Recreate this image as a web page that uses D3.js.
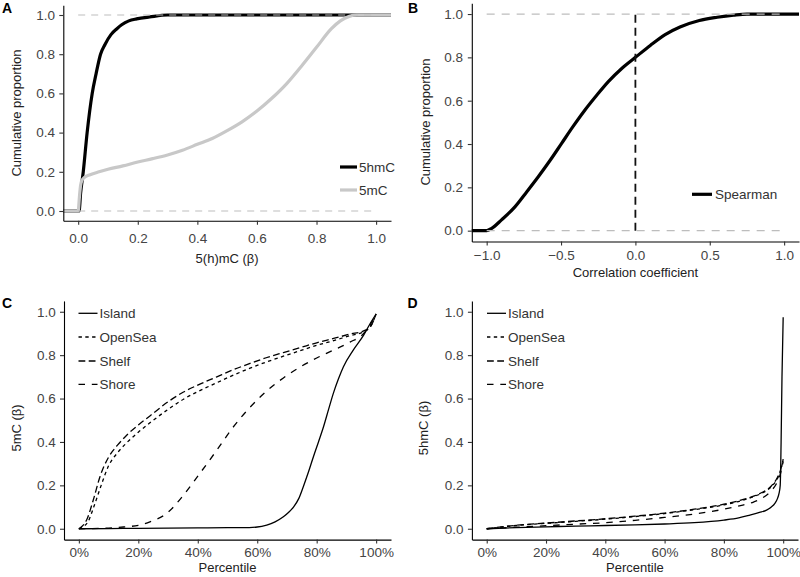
<!DOCTYPE html>
<html>
<head>
<meta charset="utf-8">
<script src="https://cdn.jsdelivr.net/npm/d3@7"></script>
<style>
  html, body { margin: 0; padding: 0; background: #fff; }
  svg { display: block; font-family: 'Liberation Sans', Arial, Helvetica, sans-serif; }
</style>
</head>
<body>
<svg id="chart" width="800" height="577"></svg>
<script>
// ---------------- DATA ----------------
// Panel A: cumulative proportion of 5hmC / 5mC beta values
const hmcX = [-0.05, 0.003, 0.008, 0.017, 0.030, 0.047, 0.060, 0.075, 0.090, 0.110, 0.130, 0.146, 0.170, 0.196, 0.240, 0.300, 1.05];
const hmcY = [0, 0, 0.09, 0.2, 0.4, 0.6, 0.7, 0.8, 0.85, 0.9, 0.93, 0.95, 0.97, 0.98, 0.99, 1.0, 1.0];
const mcX = [-0.05, 0.0, 0.004, 0.008, 0.012, 0.02, 0.04, 0.07, 0.1, 0.15, 0.2, 0.25, 0.3, 0.35, 0.4, 0.45, 0.5, 0.55, 0.6, 0.65, 0.7, 0.75, 0.8, 0.85, 0.88, 0.91, 0.935, 1.05];
const mcY = [0, 0, 0.07, 0.13, 0.155, 0.17, 0.185, 0.2, 0.213, 0.23, 0.25, 0.267, 0.286, 0.31, 0.34, 0.37, 0.41, 0.455, 0.51, 0.575, 0.65, 0.74, 0.835, 0.93, 0.97, 0.993, 1.0, 1.0];
const seriesA = ["5hmC", "5mC"];
const ticksA = [0, 0.2, 0.4, 0.6, 0.8, 1.0];

// Panel B: cumulative proportion of Spearman correlation coefficients
const spearX = [-1.1, -1.0, -0.966, -0.9, -0.81, -0.73, -0.653, -0.573, -0.496, -0.42, -0.339, -0.26, -0.182, -0.09, 0.0, 0.1, 0.2, 0.3, 0.43, 0.55, 0.66, 0.75, 1.1];
const spearY = [0, 0, 0.011, 0.05, 0.11, 0.18, 0.249, 0.325, 0.403, 0.48, 0.557, 0.625, 0.688, 0.75, 0.80, 0.855, 0.905, 0.94, 0.97, 0.985, 0.995, 1.0, 1.0];
const seriesB = ["Spearman"];
const xTicksB = [-1.0, -0.5, 0.0, 0.5, 1.0];

// Panel C: 5mC by percentile per region
const regions = ["Island", "OpenSea", "Shelf", "Shore"];
const cIslandP = [0, 0.1, 0.2, 0.3, 0.4, 0.5, 0.55, 0.6, 0.632, 0.66, 0.688, 0.705, 0.722, 0.74, 0.755, 0.772, 0.789, 0.806, 0.823, 0.84, 0.856, 0.873, 0.89, 0.923, 0.958, 0.98, 1.0];
const cIslandV = [0, 0.001, 0.002, 0.003, 0.004, 0.005, 0.005, 0.008, 0.017, 0.032, 0.055, 0.075, 0.10, 0.14, 0.194, 0.26, 0.332, 0.40, 0.47, 0.55, 0.624, 0.69, 0.747, 0.823, 0.892, 0.946, 0.99];
const cOpenSeaP = [0, 0.015, 0.03, 0.05, 0.075, 0.1, 0.13, 0.16, 0.2, 0.239, 0.3, 0.352, 0.4, 0.464, 0.52, 0.576, 0.63, 0.688, 0.75, 0.8, 0.86, 0.912, 0.958, 0.98, 1.0];
const cOpenSeaV = [0, 0.01, 0.03, 0.1, 0.2, 0.29, 0.35, 0.395, 0.445, 0.488, 0.55, 0.597, 0.632, 0.673, 0.708, 0.74, 0.768, 0.795, 0.823, 0.845, 0.868, 0.89, 0.908, 0.93, 0.99];
const cShelfP = [0, 0.01, 0.026, 0.048, 0.071, 0.1, 0.13, 0.16, 0.2, 0.239, 0.3, 0.352, 0.4, 0.464, 0.52, 0.576, 0.63, 0.688, 0.75, 0.8, 0.86, 0.912, 0.958, 0.98, 1.0];
const cShelfV = [0, 0.01, 0.04, 0.13, 0.24, 0.33, 0.385, 0.43, 0.478, 0.52, 0.585, 0.63, 0.662, 0.70, 0.733, 0.762, 0.788, 0.812, 0.837, 0.857, 0.878, 0.897, 0.912, 0.93, 0.99];
const cShoreP = [0, 0.1, 0.15, 0.2, 0.239, 0.295, 0.352, 0.407, 0.464, 0.52, 0.576, 0.632, 0.688, 0.744, 0.8, 0.856, 0.912, 0.958, 0.98, 1.0];
const cShoreV = [0, 0.003, 0.008, 0.016, 0.032, 0.07, 0.155, 0.255, 0.362, 0.47, 0.56, 0.635, 0.695, 0.745, 0.787, 0.823, 0.86, 0.90, 0.94, 0.99];

// Panel D: 5hmC by percentile per region
const dIslandP = [0, 0.1, 0.2, 0.3, 0.4, 0.5, 0.6, 0.7, 0.8, 0.85, 0.888, 0.92, 0.944, 0.96, 0.972, 0.981, 0.986, 0.99, 0.993, 0.996, 1.0];
const dIslandV = [0, 0.005, 0.009, 0.012, 0.015, 0.018, 0.022, 0.028, 0.04, 0.05, 0.063, 0.075, 0.086, 0.1, 0.117, 0.14, 0.163, 0.2, 0.4, 0.7, 0.975];
const dPctP = [0, 0.1, 0.2, 0.3, 0.4, 0.5, 0.6, 0.7, 0.8, 0.86, 0.9, 0.93, 0.96, 0.98, 0.99, 1.0];
const dOpenSeaV = [0, 0.015, 0.025, 0.034, 0.044, 0.056, 0.07, 0.088, 0.11, 0.13, 0.148, 0.165, 0.194, 0.23, 0.26, 0.32];
const dShelfV = [0, 0.016, 0.026, 0.036, 0.046, 0.058, 0.072, 0.09, 0.113, 0.133, 0.15, 0.168, 0.197, 0.235, 0.265, 0.32];
const dShoreV = [0, 0.007, 0.014, 0.021, 0.028, 0.039, 0.052, 0.068, 0.09, 0.108, 0.123, 0.142, 0.175, 0.215, 0.25, 0.31];
const pctTicks = [0, 0.2, 0.4, 0.6, 0.8, 1.0];

// ---------------- DRAWING ----------------
const svg = d3.select("#chart");
const FS_TICK = 13.5, FS_TITLE = 13, FS_LEG = 13.5;
const TICK_COL = "#444", LEG_COL = "#333";
const dashStyles = { Island: null, OpenSea: "3.4,3.4", Shelf: "6.8,3.4", Shore: "6.5,6.8" };

function zip(xs, ys) { return xs.map((x, i) => [x, ys[i]]); }

function axes(g, x, y, o) {
  const ax = g.append("g").attr("transform", `translate(0,${y.range()[0]})`)
    .call(d3.axisBottom(x).tickValues(o.xTicks).tickFormat(o.xFmt).tickSize(4).tickSizeOuter(0).tickPadding(o.xPad));
  const ay = g.append("g").attr("transform", `translate(${x.range()[0]},0)`)
    .call(d3.axisLeft(y).tickValues(o.yTicks).tickFormat(d3.format(".1f")).tickSize(4).tickSizeOuter(0).tickPadding(o.yPad));
  [ax, ay].forEach(a => {
    a.select(".domain").attr("stroke", "#000").attr("stroke-width", 1.1);
    a.selectAll(".tick line").attr("stroke", "#333").attr("stroke-width", 1.1);
    a.selectAll(".tick text").attr("fill", TICK_COL).attr("font-size", FS_TICK)
      .attr("font-family", "'Liberation Sans', Arial, sans-serif");
  });
  g.append("text").attr("x", (x.range()[0] + x.range()[1]) / 2).attr("y", o.xTitleY)
    .attr("text-anchor", "middle").attr("font-size", FS_TITLE).attr("fill", "#222").text(o.xTitle);
  g.append("text").attr("transform", `translate(${o.yTitleX},${o.yTitleCY}) rotate(-90)`)
    .attr("text-anchor", "middle").attr("dominant-baseline", "central")
    .attr("font-size", FS_TITLE).attr("fill", "#222").text(o.yTitle);
  g.append("text").attr("x", o.letterX).attr("y", o.letterY).attr("font-size", 14)
    .attr("font-weight", "bold").attr("fill", "#000").text(o.letter);
}

const curve = d3.curveMonotoneX;

// ---------- Panel A ----------
{
  const g = svg.append("g");
  const x = d3.scaleLinear().domain([-0.05, 1.05]).range([63.3, 391]);
  const y = d3.scaleLinear().domain([-0.05, 1.05]).range([220.8, 5.2]);
  const line = d3.line().x(d => x(d[0])).y(d => y(d[1])).curve(curve);
  const colA = { "5hmC": "#000", "5mC": "#c8c8c8" };
  const dataA = { "5hmC": zip(hmcX, hmcY), "5mC": zip(mcX, mcY) };
  seriesA.forEach(s => g.append("path").datum(dataA[s]).attr("d", line)
    .attr("fill", "none").attr("stroke", colA[s]).attr("stroke-width", 3.2));
  [0, 1].forEach(v => g.append("line").attr("x1", x(0)).attr("x2", x(1)).attr("y1", y(v)).attr("y2", y(v))
    .attr("stroke", "#bdbdbd").attr("stroke-width", 1.2).attr("stroke-dasharray", "7,6"));
  axes(g, x, y, { xTicks: ticksA, xFmt: d3.format(".1f"), yTicks: ticksA, xPad: 8.5, yPad: 4.3,
    xTitle: "5(h)mC (β)", xTitleY: 263, yTitle: "Cumulative proportion", yTitleX: 16.5, yTitleCY: 113,
    letter: "A", letterX: 2, letterY: 12.5 });
  seriesA.forEach((s, i) => {
    const ly = 167 + i * 23;
    g.append("line").attr("x1", 340).attr("x2", 357).attr("y1", ly).attr("y2", ly)
      .attr("stroke", colA[s]).attr("stroke-width", 3.2);
    g.append("text").attr("x", 359).attr("y", ly).attr("dominant-baseline", "central")
      .attr("font-size", FS_LEG).attr("fill", LEG_COL).text(s);
  });
}

// ---------- Panel B ----------
{
  const g = svg.append("g");
  const x = d3.scaleLinear().domain([-1.1, 1.1]).range([471.8, 799]);
  const y = d3.scaleLinear().domain([-0.05, 1.05]).range([241.5, 3.2]);
  const line = d3.line().x(d => x(d[0])).y(d => y(d[1])).curve(curve);
  g.append("path").datum(zip(spearX, spearY)).attr("d", line)
    .attr("fill", "none").attr("stroke", "#000").attr("stroke-width", 3.2);
  g.append("line").attr("x1", x(0)).attr("x2", x(0)).attr("y1", y(0)).attr("y2", y(1))
    .attr("stroke", "#111").attr("stroke-width", 1.8).attr("stroke-dasharray", "8,5");
  [0, 1].forEach(v => g.append("line").attr("x1", x(-1)).attr("x2", x(1)).attr("y1", y(v)).attr("y2", y(v))
    .attr("stroke", "#bdbdbd").attr("stroke-width", 1.2).attr("stroke-dasharray", "8,7"));
  axes(g, x, y, { xTicks: xTicksB, xFmt: d3.format(".1f"), yTicks: ticksA, xPad: 4.8, yPad: 4.8,
    xTitle: "Correlation coefficient", xTitleY: 277, yTitle: "Cumulative proportion", yTitleX: 425, yTitleCY: 122,
    letter: "B", letterX: 408, letterY: 12.5 });
  const ly = 194.3;
  g.append("line").attr("x1", 692).attr("x2", 712).attr("y1", ly).attr("y2", ly)
    .attr("stroke", "#000").attr("stroke-width", 3.2);
  g.append("text").attr("x", 715).attr("y", ly).attr("dominant-baseline", "central")
    .attr("font-size", FS_LEG).attr("fill", LEG_COL).text(seriesB[0]);
}

// ---------- Panels C and D ----------
function regionPanel(cfg) {
  const g = svg.append("g");
  const x = d3.scaleLinear().domain([-0.05, 1.05]).range(cfg.xr);
  const y = d3.scaleLinear().domain([-0.05, 1.05]).range([539.6, 300.9]);
  const line = d3.line().x(d => x(d[0])).y(d => y(d[1])).curve(curve);
  regions.forEach(r => {
    const p = g.append("path").datum(cfg.data[r]).attr("d", line)
      .attr("fill", "none").attr("stroke", "#000").attr("stroke-width", 1.3);
    if (dashStyles[r]) p.attr("stroke-dasharray", dashStyles[r]);
  });
  axes(g, x, y, { xTicks: pctTicks, xFmt: d3.format(".0%"), yTicks: ticksA, xPad: 4, yPad: 4.3,
    xTitle: "Percentile", xTitleY: 572, yTitle: cfg.yTitle, yTitleX: cfg.yTitleX, yTitleCY: 428,
    letter: cfg.letter, letterX: cfg.letterX, letterY: 307.5 });
  const ys = [313.3, 337, 361, 384.3];
  regions.forEach((r, i) => {
    const l = g.append("line").attr("x1", cfg.legX).attr("x2", cfg.legX + 19).attr("y1", ys[i]).attr("y2", ys[i])
      .attr("stroke", "#000").attr("stroke-width", 1.3);
    if (dashStyles[r]) l.attr("stroke-dasharray", dashStyles[r]);
    g.append("text").attr("x", cfg.legX + 21).attr("y", ys[i]).attr("dominant-baseline", "central")
      .attr("font-size", FS_LEG).attr("fill", LEG_COL).text(r);
  });
}

regionPanel({
  xr: [64, 391], letter: "C", letterX: 2, yTitle: "5mC (β)", yTitleX: 16, legX: 78.5,
  data: {
    Island: zip(cIslandP, cIslandV), OpenSea: zip(cOpenSeaP, cOpenSeaV),
    Shelf: zip(cShelfP, cShelfV), Shore: zip(cShoreP, cShoreV)
  }
});
regionPanel({
  xr: [471.9, 798], letter: "D", letterX: 407.5, yTitle: "5hmC (β)", yTitleX: 423, legX: 487,
  data: {
    Island: zip(dIslandP, dIslandV), OpenSea: zip(dPctP, dOpenSeaV),
    Shelf: zip(dPctP, dShelfV), Shore: zip(dPctP, dShoreV)
  }
});
</script>
</body>
</html>
